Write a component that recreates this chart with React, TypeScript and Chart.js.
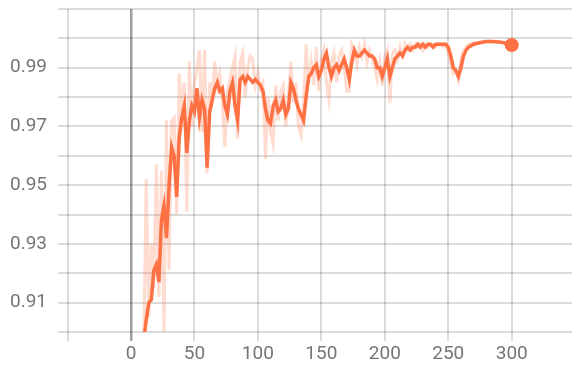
import React, { useEffect, useRef } from "react";
import { Chart, registerables } from "chart.js";

Chart.register(...registerables);

const steps: number[] = [
  10, 12, 14, 16, 18, 20, 22, 24, 26, 28, 30, 32, 34, 36, 38, 40, 42, 44, 46, 48,
  50, 52, 54, 56, 58, 60, 62, 64, 66, 68, 70, 72, 74, 76, 78, 80, 82, 84, 86, 88,
  90, 92, 94, 96, 98, 100, 102, 104, 106, 108, 110, 112, 114, 116, 118, 120, 122, 124, 126, 128,
  130, 132, 134, 136, 138, 140, 142, 144, 146, 148, 150, 152, 154, 156, 158, 160, 162, 164, 166, 168,
  170, 172, 174, 176, 178, 180, 182, 184, 186, 188, 190, 192, 194, 196, 198, 200, 202, 204, 206, 208,
  210, 212, 214, 216, 218, 220, 222, 224, 226, 228, 230, 232, 234, 236, 238, 240, 242, 244, 246, 248,
  250, 252, 254, 256, 258, 260, 262, 264, 266, 270, 275, 280, 285, 290, 295, 300,
];

const smoothed: number[] = [
  0.897, 0.904, 0.910, 0.911, 0.921, 0.923, 0.917, 0.938, 0.943, 0.932, 0.950, 0.963, 0.960, 0.946, 0.966, 0.973, 0.977, 0.961, 0.972, 0.977,
  0.975, 0.983, 0.973, 0.979, 0.976, 0.956, 0.975, 0.979, 0.983, 0.985, 0.982, 0.983, 0.977, 0.974, 0.982, 0.985, 0.977, 0.972, 0.986, 0.987,
  0.985, 0.987, 0.986, 0.985, 0.986, 0.985, 0.984, 0.982, 0.976, 0.972, 0.971, 0.977, 0.979, 0.975, 0.976, 0.979, 0.974, 0.976, 0.985, 0.983,
  0.979, 0.976, 0.974, 0.972, 0.980, 0.987, 0.988, 0.990, 0.991, 0.987, 0.989, 0.993, 0.995, 0.990, 0.987, 0.990, 0.991, 0.989, 0.991, 0.993,
  0.990, 0.986, 0.992, 0.996, 0.994, 0.994, 0.995, 0.996, 0.995, 0.994, 0.994, 0.993, 0.990, 0.990, 0.987, 0.990, 0.993, 0.987, 0.990, 0.993,
  0.994, 0.995, 0.994, 0.996, 0.997, 0.996, 0.997, 0.997, 0.998, 0.997, 0.998, 0.997, 0.998, 0.998, 0.997, 0.998, 0.998, 0.998, 0.998, 0.998,
  0.997, 0.994, 0.990, 0.989, 0.987, 0.990, 0.994, 0.996, 0.997, 0.998, 0.9985, 0.9989, 0.9989, 0.9988, 0.9984, 0.9977,
];

const raw: number[] = [
  0.893, 0.952, 0.905, 0.930, 0.915, 0.957, 0.912, 0.955, 0.900, 0.972, 0.921, 0.972, 0.973, 0.940, 0.988, 0.975, 0.985, 0.941, 0.992, 0.970,
  0.985, 0.990, 0.996, 0.968, 0.996, 0.954, 0.985, 0.980, 0.992, 0.984, 0.988, 0.978, 0.963, 0.982, 0.986, 0.990, 0.994, 0.966, 0.992, 0.995,
  0.980, 0.990, 0.994, 0.993, 0.984, 0.988, 0.983, 0.985, 0.959, 0.980, 0.968, 0.964, 0.984, 0.972, 0.982, 0.984, 0.970, 0.980, 0.992, 0.978,
  0.985, 0.970, 0.967, 0.978, 0.998, 0.985, 0.992, 0.984, 0.997, 0.982, 0.993, 0.996, 0.985, 0.979, 0.992, 0.995, 0.985, 0.994, 0.996, 0.990,
  0.982, 0.982, 0.998, 0.996, 0.991, 0.997, 0.994, 0.998, 0.992, 0.996, 0.993, 0.990, 0.986, 0.992, 0.984, 0.994, 0.996, 0.978, 0.995, 0.996,
  0.993, 0.997, 0.994, 0.998, 0.996, 0.998, 0.996, 0.998, 0.997, 0.998, 0.996, 0.998, 0.997, 0.998, 0.998, 0.997, 0.998, 0.998, 0.997, 0.998,
  0.995, 0.991, 0.988, 0.989, 0.986, 0.993, 0.996, 0.997, 0.998, 0.9985, 0.9988, 0.999, 0.9989, 0.9987, 0.9983, 0.9976,
];

const xTickValues: number[] = [-50, 0, 50, 100, 150, 200, 250, 300];
const yTickValues: number[] = [0.9, 0.91, 0.92, 0.93, 0.94, 0.95, 0.96, 0.97, 0.98, 0.99, 1.0, 1.01];
const yLabelled: string[] = ["0.91", "0.93", "0.95", "0.97", "0.99"];

export default function App() {
  const ref = useRef<HTMLCanvasElement | null>(null);

  useEffect(() => {
    document.body.style.margin = "0";
    const canvas = ref.current;
    if (!canvas) return;
    const last = steps.length - 1;
    const chart = new Chart(canvas, {
      type: "line",
      data: {
        datasets: [
          {
            label: "smoothed",
            data: steps.map((s, i) => ({ x: s, y: smoothed[i] })),
            borderColor: "#ff7043",
            backgroundColor: "#ff7043",
            borderWidth: 3.5,
            tension: 0,
            pointRadius: (ctx: any) => (ctx.dataIndex === last ? 7 : 0),
            pointHoverRadius: 0,
            pointBorderWidth: 0,
          },
          {
            label: "raw",
            data: steps.map((s, i) => ({ x: s, y: raw[i] })),
            borderColor: "rgba(255,112,67,0.25)",
            borderWidth: 3,
            tension: 0,
            pointRadius: 0,
          },
        ],
      },
      options: {
        animation: false,
        responsive: false,
        maintainAspectRatio: false,
        layout: { autoPadding: false, padding: { top: 9, right: 0, left: 0, bottom: 0 } },
        plugins: { legend: { display: false }, tooltip: { enabled: false } },
        scales: {
          x: {
            type: "linear",
            min: -57.5,
            max: 347.5,
            afterBuildTicks: (scale: any) => {
              scale.ticks = xTickValues.map((v) => ({ value: v }));
            },
            afterFit: (scale: any) => {
              scale.height = 43;
              scale.paddingLeft = 0;
              scale.paddingRight = 0;
            },
            border: { display: false },
            grid: {
              color: (ctx: any) => (ctx.tick && ctx.tick.value === 0 ? "#a0a0a0" : "rgba(0,0,0,0.14)"),
              lineWidth: (ctx: any) => (ctx.tick && ctx.tick.value === 0 ? 2.5 : 2),
              drawTicks: true,
              tickLength: 9,
            },
            ticks: {
              autoSkip: false,
              maxRotation: 0,
              padding: 2,
              color: "#757575",
              font: { family: "Roboto", size: 19 },
              callback: (v: any) => (Number(v) < 0 ? "" : String(v)),
            },
          },
          y: {
            type: "linear",
            min: 0.9,
            max: 1.01,
            afterBuildTicks: (scale: any) => {
              scale.ticks = yTickValues.map((v) => ({ value: v }));
            },
            afterFit: (scale: any) => {
              scale.width = 58;
              scale.paddingTop = 0;
              scale.paddingBottom = 0;
            },
            border: { display: false },
            grid: {
              color: "rgba(0,0,0,0.14)",
              lineWidth: 2,
              drawTicks: false,
            },
            ticks: {
              autoSkip: false,
              padding: 11,
              color: "#757575",
              font: { family: "Roboto", size: 19 },
              callback: (v: any) => {
                const s = Number(v).toFixed(2);
                return yLabelled.includes(s) ? s : "";
              },
            },
          },
        },
      },
    } as any);
    return () => chart.destroy();
  }, []);

  return (
    <div style={{ width: 572, height: 375, position: "relative" }}>
      <canvas ref={ref} width={572} height={375} style={{ display: "block" }} />
    </div>
  );
}
